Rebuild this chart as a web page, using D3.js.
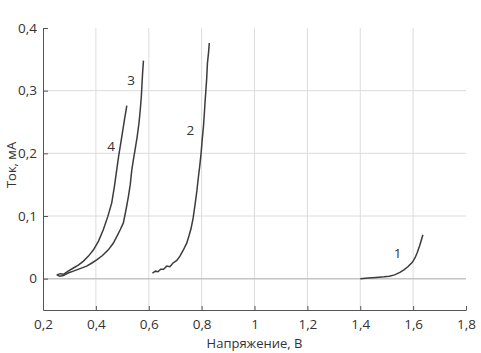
<!DOCTYPE html>
<html>
<head>
<meta charset="utf-8">
<script src="https://cdn.jsdelivr.net/npm/d3@7"></script>
<style>
  body { margin: 0; background: #fff; }
  text { font-family: "Open Sans", sans-serif; }
</style>
</head>
<body>
<svg id="chart" width="481" height="353"></svg>
<script>
// data: [voltage, current]
var curve_1 = [[1.400,0.000],[1.430,0.001],[1.460,0.002],[1.490,0.003],[1.510,0.004],[1.530,0.006],
  [1.550,0.010],[1.565,0.014],[1.580,0.019],[1.597,0.026],[1.607,0.033],[1.615,0.041],[1.625,0.053],[1.637,0.070]];
var curve_2 = [[0.614,0.009],[0.625,0.012],[0.635,0.011],[0.645,0.015],[0.656,0.015],[0.668,0.020],[0.680,0.019],
  [0.692,0.025],[0.706,0.029],[0.718,0.036],[0.730,0.045],[0.744,0.057],[0.752,0.068],[0.760,0.080],
  [0.768,0.097],[0.776,0.121],[0.782,0.140],[0.788,0.163],[0.793,0.180],[0.798,0.200],[0.802,0.221],
  [0.807,0.243],[0.810,0.262],[0.813,0.282],[0.817,0.306],[0.819,0.318],[0.822,0.344],[0.826,0.360],[0.829,0.376]];
var curve_3 = [[0.252,0.006],[0.264,0.004],[0.277,0.005],[0.295,0.009],[0.315,0.012],[0.340,0.016],[0.365,0.020],
  [0.385,0.025],[0.403,0.030],[0.425,0.037],[0.447,0.046],[0.465,0.056],[0.479,0.067],[0.492,0.078],
  [0.504,0.089],[0.514,0.110],[0.523,0.131],[0.530,0.150],[0.536,0.174],[0.542,0.190],[0.548,0.205],
  [0.556,0.226],[0.563,0.248],[0.568,0.270],[0.572,0.291],[0.575,0.315],[0.577,0.330],[0.580,0.348]];
var curve_4 = [[0.252,0.006],[0.265,0.008],[0.277,0.007],[0.295,0.012],[0.315,0.017],[0.335,0.022],[0.353,0.028],
  [0.372,0.036],[0.391,0.046],[0.410,0.060],[0.428,0.078],[0.445,0.099],[0.460,0.121],[0.470,0.147],
  [0.479,0.174],[0.486,0.195],[0.494,0.216],[0.502,0.237],[0.509,0.256],[0.514,0.268],[0.517,0.276]];
var curve_labels = [["1",1.541,0.040],["2",0.757,0.237],["3",0.533,0.317],["4",0.458,0.212]];
var x_ticks = [0.2,0.4,0.6,0.8,1.0,1.2,1.4,1.6,1.8];
var y_ticks = [0,0.1,0.2,0.3,0.4];
var x_title = "Напряжение, В";
var y_title = "Ток, мА";

var margin = {top: 28, right: 15, bottom: 43, left: 43},
  width = 481 - margin.left - margin.right,
  height = 353 - margin.top - margin.bottom;

var svg = d3.select("#chart");
var g = svg.append("g")
  .attr("transform", "translate(" + margin.left + "," + margin.top + ")");

var x = d3.scaleLinear().domain([0.2, 1.8]).range([0, width]);
var y = d3.scaleLinear().domain([-0.05, 0.4]).range([height, 0]);
var fmt = function(d) { return String(+d.toFixed(1)).replace(".", ","); };

// grid
g.append("g").selectAll("line")
  .data(x_ticks.filter(function(d) { return d > 0.2 && d < 1.8; }))
  .enter().append("line")
  .attr("x1", function(d) { return x(d); }).attr("x2", function(d) { return x(d); })
  .attr("y1", 0).attr("y2", height)
  .style("stroke", "#dcdcdc").style("stroke-width", 1);
g.append("g").selectAll("line")
  .data(y_ticks.filter(function(d) { return d < 0.4; }))
  .enter().append("line")
  .attr("x1", 0).attr("x2", width)
  .attr("y1", function(d) { return y(d); }).attr("y2", function(d) { return y(d); })
  .style("stroke", function(d) { return d === 0 ? "#c4c4c4" : "#dcdcdc"; })
  .style("stroke-width", function(d) { return d === 0 ? 1.5 : 1; });

// axes
var x_axis = g.append("g")
  .attr("transform", "translate(0," + height + ")")
  .call(d3.axisBottom(x).tickValues(x_ticks).tickFormat(fmt).tickSizeInner(-4).tickSizeOuter(0).tickPadding(9));
var y_axis = g.append("g")
  .call(d3.axisLeft(y).tickValues(y_ticks).tickFormat(fmt).tickSizeInner(-5).tickSizeOuter(0).tickPadding(6));
[x_axis, y_axis].forEach(function(a) {
  a.select(".domain").style("stroke", "#555");
  a.selectAll(".tick line").style("stroke", "#555");
  a.selectAll("text").style("font-size", "13.5px").style("fill", "#333").style("font-family", "Open Sans, sans-serif");
});

// curves
var line = d3.line()
  .x(function(d) { return x(d[0]); })
  .y(function(d) { return y(d[1]); });
[curve_1, curve_2, curve_3, curve_4].forEach(function(c) {
  g.append("path")
    .datum(c)
    .attr("d", line)
    .style("fill", "none")
    .style("stroke", "#3c3c3c")
    .style("stroke-width", 1.5);
});

g.selectAll(".lbl")
  .data(curve_labels)
  .enter().append("text")
  .attr("x", function(d) { return x(d[1]); })
  .attr("y", function(d) { return y(d[2]); })
  .attr("text-anchor", "middle")
  .attr("dy", "0.35em")
  .style("font-size", "13.5px")
  .style("fill", "#333")
  .text(function(d) { return d[0]; });

// titles
svg.append("text")
  .attr("x", margin.left + width / 2)
  .attr("y", 348)
  .attr("text-anchor", "middle")
  .style("font-size", "13px")
  .style("fill", "#333")
  .text(x_title);
svg.append("text")
  .attr("transform", "translate(16,165) rotate(-90)")
  .attr("text-anchor", "middle")
  .style("font-size", "13px")
  .style("fill", "#333")
  .text(y_title);
</script>
</body>
</html>
